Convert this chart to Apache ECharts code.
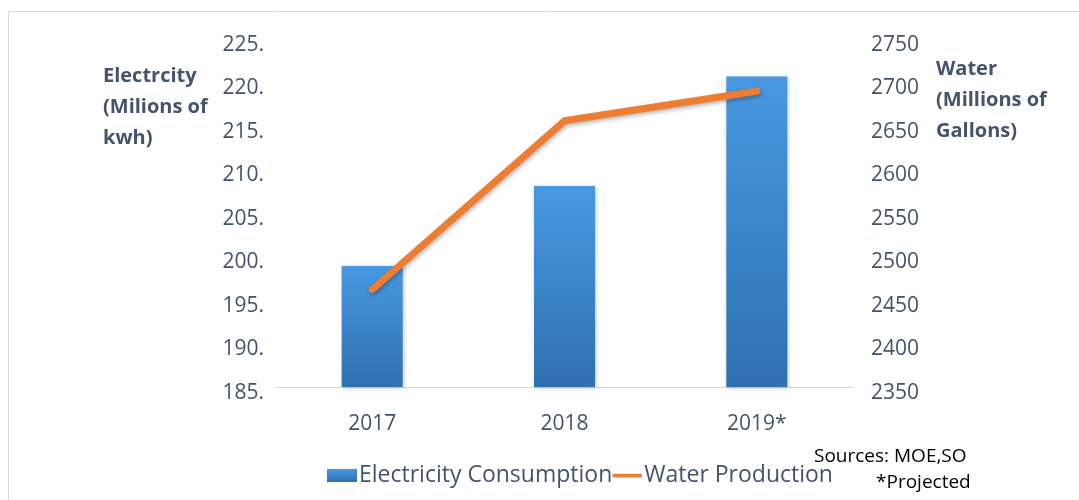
<!DOCTYPE html>
<html>
<head>
<meta charset="utf-8">
<script src="https://cdn.jsdelivr.net/npm/echarts@6/dist/echarts.min.js"></script>
<style>
html,body{margin:0;padding:0;background:#fff;}
#main{width:1079px;height:500px;}
</style>
</head>
<body>
<div id="main"></div>
<script>
var years = ['2017', '2018', '2019*'];
var electricity = [198.9, 208.1, 220.7];
var water = [2462, 2656, 2690];
var elecTicks = {min: 185, max: 225, step: 5};
var waterTicks = {min: 2350, max: 2750, step: 50};

var textColor = '#44546a';
var font = 'Open Sans';

// tick labels in the original sit a bit below their tick
var tickRich = {t: {color: textColor, fontFamily: font, fontSize: 21, padding: [12, 0, 0, 0]}};

var chart = echarts.init(document.getElementById('main'));
var option = {
    animation: false,
    grid: {left: 276, right: 226, top: 39, bottom: 113},
    graphic: [
        {type: 'rect', shape: {x: 8.5, y: 11.5, width: 1100, height: 520},
         style: {fill: 'none', stroke: '#d9d9d9', lineWidth: 1}, silent: true},
        {type: 'text', left: 103, top: 61,
         style: {text: 'Electrcity\n(Milions of\nkwh)', fill: textColor, font: 'bold 20px "Open Sans"', lineHeight: 31}},
        {type: 'text', left: 936, top: 54,
         style: {text: 'Water\n(Millions of\nGallons)', fill: textColor, font: 'bold 20px "Open Sans"', lineHeight: 31}},
        {type: 'text', left: 814, top: 447,
         style: {text: 'Sources: MOE,SO', fill: '#000', font: '19px "Open Sans"'}},
        {type: 'text', left: 876, top: 473,
         style: {text: '*Projected', fill: '#000', font: '19px "Open Sans"'}}
    ],
    legend: {
        left: 322, top: 459,
        itemWidth: 30, itemHeight: 13, itemGap: 0,
        textStyle: {color: textColor, fontFamily: font, fontSize: 23, padding: [8, 0, 0, -3]},
        data: [
            {name: 'Electricity Consumption', icon: 'rect'},
            {name: 'Water Production', icon: 'path://M2,0 L30,0 A2,2 0 0 1 30,4 L2,4 A2,2 0 0 1 2,0 Z'}
        ]
    },
    xAxis: {
        type: 'category',
        data: years,
        axisLine: {lineStyle: {color: '#d9d9d9', width: 1}},
        axisTick: {show: false},
        axisLabel: {color: textColor, fontFamily: font, fontSize: 21, margin: 27}
    },
    yAxis: [
        {
            type: 'value', min: elecTicks.min, max: elecTicks.max, interval: elecTicks.step,
            splitLine: {show: false}, axisLine: {show: false}, axisTick: {show: false},
            axisLabel: {margin: 12, rich: tickRich,
                formatter: function (v) { return '{t|' + v + '.}'; }}
        },
        {
            type: 'value', min: waterTicks.min, max: waterTicks.max, interval: waterTicks.step,
            splitLine: {show: false}, axisLine: {show: false}, axisTick: {show: false},
            axisLabel: {margin: 18, rich: tickRich,
                formatter: function (v) { return '{t|' + v + '}'; }}
        }
    ],
    series: [
        {
            name: 'Electricity Consumption',
            type: 'bar',
            barWidth: 61,
            data: electricity,
            itemStyle: {
                color: new echarts.graphic.LinearGradient(0, 0, 0, 1, [
                    {offset: 0, color: '#4799e2'},
                    {offset: 1, color: '#2f70b0'}
                ]),
                shadowColor: 'rgba(0,0,0,0.25)', shadowBlur: 4, shadowOffsetX: 1, shadowOffsetY: 1
            }
        },
        {
            name: 'Water Production',
            type: 'line',
            yAxisIndex: 1,
            data: water,
            symbol: 'none',
            itemStyle: {color: '#ed7d31'},
            lineStyle: {color: '#ed7d31', width: 7, cap: 'round',
                shadowColor: 'rgba(0,0,0,0.3)', shadowBlur: 4, shadowOffsetX: 1, shadowOffsetY: 2}
        }
    ]
};
chart.setOption(option);
</script>
</body>
</html>
